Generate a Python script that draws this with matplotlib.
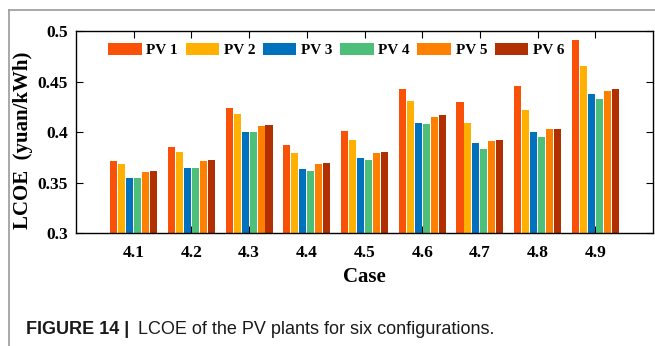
import numpy as np
import matplotlib
matplotlib.use('Agg')
import matplotlib.pyplot as plt
from matplotlib.lines import Line2D

cases = ['4.1', '4.2', '4.3', '4.4', '4.5', '4.6', '4.7', '4.8', '4.9']
pv_names = ['PV 1', 'PV 2', 'PV 3', 'PV 4', 'PV 5', 'PV 6']

# LCOE (yuan/kWh) per case, one list per PV configuration
pv1 = [0.371, 0.385, 0.424, 0.387, 0.401, 0.443, 0.430, 0.446, 0.492]
pv2 = [0.368, 0.380, 0.418, 0.379, 0.392, 0.431, 0.409, 0.422, 0.466]
pv3 = [0.354, 0.364, 0.400, 0.363, 0.374, 0.409, 0.389, 0.400, 0.438]
pv4 = [0.354, 0.364, 0.400, 0.361, 0.372, 0.408, 0.383, 0.395, 0.433]
pv5 = [0.360, 0.371, 0.406, 0.368, 0.379, 0.415, 0.391, 0.403, 0.441]
pv6 = [0.361, 0.372, 0.407, 0.369, 0.380, 0.417, 0.392, 0.403, 0.443]
series = [pv1, pv2, pv3, pv4, pv5, pv6]

colors = ['#F95208', '#FFB000', '#0072BD', '#4DBF79', '#FF7F00', '#B12F00']

serif = 'Liberation Serif'

fig = plt.figure(figsize=(6.55, 3.46), dpi=100)
ax = fig.add_axes([0.116, 0.327, 0.881, 0.582])

x = np.arange(1, len(cases) + 1)
step = 0.138
width = 0.122
for i, (vals, c) in enumerate(zip(series, colors)):
    ax.bar(x + (i - 2.5) * step, vals, width=width, color=c, label=pv_names[i], zorder=2)

ax.set_xlim(0, 10)
ax.set_ylim(0.3, 0.5)
ax.set_xticks(x)
ax.set_xticklabels(cases)
ax.set_yticks([0.3, 0.35, 0.4, 0.45, 0.5])
ax.set_yticklabels(['0.3', '0.35', '0.4', '0.45', '0.5'])
ax.tick_params(direction='in', length=5, width=0.8, top=True, right=True)
ax.tick_params(axis='x', pad=9)
ax.tick_params(axis='y', pad=6)
for lab in ax.get_xticklabels() + ax.get_yticklabels():
    lab.set_fontfamily(serif)
    lab.set_fontweight('bold')
    lab.set_fontsize(12.5)
for s in ax.spines.values():
    s.set_linewidth(1.0)

ax.set_xlabel('Case', fontfamily=serif, fontweight='bold', fontsize=15, labelpad=4)
ax.set_ylabel('LCOE  (yuan/kWh)', fontfamily=serif, fontweight='bold', fontsize=15)
ax.yaxis.set_label_coords(-0.074, 0.46)

leg = ax.legend(ncol=6, loc='upper left', bbox_to_anchor=(0.045, 0.975), frameon=False,
                prop={'family': serif, 'weight': 'bold', 'size': 11},
                handlelength=2.2, handleheight=0.9, handletextpad=0.3,
                columnspacing=0.5, borderaxespad=0)

# page frame lines
fig.add_artist(Line2D([9 / 655, 9 / 655], [0, 1 - 10 / 346], color='#9a9a9a', lw=1.2))
fig.add_artist(Line2D([9 / 655, 1], [1 - 10 / 346, 1 - 10 / 346], color='#9a9a9a', lw=1.2))

fig.text(26 / 655, 1 - 329 / 346, 'FIGURE 14 |', fontfamily='Liberation Sans', fontweight='bold',
         fontsize=13, va='center', ha='left', color='#1a1a1a')
fig.text(138 / 655, 1 - 329 / 346, 'LCOE of the PV plants for six configurations.',
         fontfamily='Liberation Sans', fontsize=13, va='center', ha='left', color='#1a1a1a')

fig.savefig('out.png', dpi=100)
